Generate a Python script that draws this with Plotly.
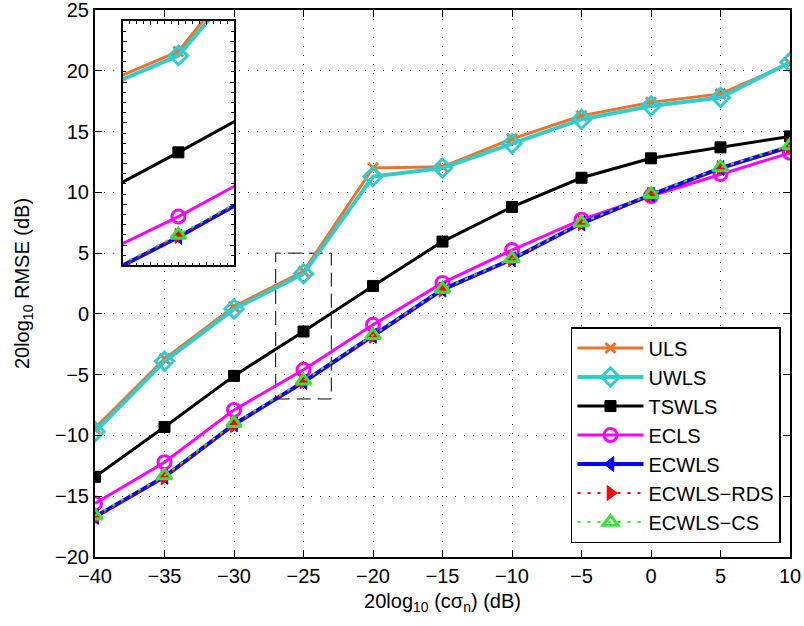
import plotly.graph_objects as go

# noise level 20log10(c*sigma_n) in dB
snr_db = [-40, -35, -30, -25, -20, -15, -10, -5, 0, 5, 10]

# RMSE (dB) of each estimator
uls = [-9.4, -3.7, 0.6, 3.5, 12.0, 12.1, 14.4, 16.3, 17.4, 18.1, 20.6]
uwls = [-9.7, -3.9, 0.4, 3.3, 11.3, 12.0, 14.0, 16.0, 17.1, 17.8, 20.7]
tswls = [-13.4, -9.3, -5.1, -1.45, 2.3, 5.95, 8.8, 11.2, 12.8, 13.7, 14.6]
ecls = [-15.6, -12.2, -7.9, -4.6, -0.9, 2.55, 5.25, 7.75, 9.7, 11.5, 13.25]
ecwls = [-16.7, -13.4, -9.1, -5.6, -1.8, 2.0, 4.5, 7.45, 9.8, 12.0, 13.75]
ecwls_rds = [-16.8, -13.45, -9.15, -5.55, -1.8, 2.0, 4.5, 7.45, 9.8, 12.0, 13.8]
ecwls_cs = [-16.6, -13.3, -9.0, -5.5, -1.75, 2.05, 4.55, 7.5, 9.85, 12.05, 13.85]

# zoomed window shown in the inset
zoom_x = [-27, -23]
zoom_y = [-7, 5]

FONT = "Liberation Sans, Arial, Helvetica, sans-serif"
ORANGE = "#E8742E"
CYAN = "#33CCCC"
GREEN = "#3CE03C"

series = [
    dict(name="ULS", y=uls, color=ORANGE, width=3, dash="solid",
         marker=dict(symbol="x-thin-open", size=10, color=ORANGE,
                     line=dict(color=ORANGE, width=3))),
    dict(name="UWLS", y=uwls, color=CYAN, width=4, dash="solid",
         marker=dict(symbol="diamond-open", size=14, color=CYAN,
                     line=dict(color=CYAN, width=3))),
    dict(name="TSWLS", y=tswls, color="black", width=3, dash="solid",
         marker=dict(symbol="square", size=11, color="black",
                     line=dict(color="black", width=1))),
    dict(name="ECLS", y=ecls, color="#FF00FF", width=3, dash="solid",
         marker=dict(symbol="circle-open", size=13, color="#FF00FF",
                     line=dict(color="#FF00FF", width=3))),
    dict(name="ECWLS", y=ecwls, color="#0000FF", width=4, dash="solid",
         marker=dict(symbol="triangle-left", size=13, color="#0000FF",
                     line=dict(color="#0000FF", width=1))),
    dict(name="ECWLS\u2212RDS", y=ecwls_rds, color="#FF0000", width=2, dash="3px,7px",
         marker=dict(symbol="triangle-right", size=13, color="#FF0000",
                     line=dict(color="#FF0000", width=1))),
    dict(name="ECWLS\u2212CS", y=ecwls_cs, color=GREEN, width=2, dash="3px,7px",
         marker=dict(symbol="triangle-up-open", size=13, color=GREEN,
                     line=dict(color=GREEN, width=3))),
]

fig = go.Figure()

for s in series:
    fig.add_trace(go.Scatter(
        x=snr_db, y=s["y"], name=s["name"], mode="lines+markers",
        line=dict(color=s["color"], width=s["width"], dash=s["dash"]),
        marker=s["marker"], xaxis="x", yaxis="y",
    ))

for s in series:
    fig.add_trace(go.Scatter(
        x=snr_db, y=s["y"], name=s["name"], mode="lines+markers",
        line=dict(color=s["color"], width=s["width"], dash=s["dash"]),
        marker=s["marker"], xaxis="x2", yaxis="y2", showlegend=False,
    ))

grid_dash = "1px,8px"
axis_common = dict(
    showline=True, linecolor="black", linewidth=2, mirror="ticks",
    ticks="inside", ticklen=7, tickwidth=1, tickcolor="black",
    showgrid=True, gridcolor="#222222", gridwidth=1, griddash=grid_dash,
    zeroline=False, ticklabeloverflow="allow", automargin=False,
    tickfont=dict(family=FONT, size=20, color="black"),
)

fig.update_layout(
    width=804, height=626,
    margin=dict(l=95, r=14, t=10, b=69),
    paper_bgcolor="white", plot_bgcolor="white",
    font=dict(family=FONT, size=19, color="black"),
    xaxis=dict(
        range=[-40, 10], dtick=5, tick0=-40, domain=[0, 1],
        title=dict(text="20log<sub>10</sub> (c\u03c3<sub>n</sub>) (dB)",
                   font=dict(family=FONT, size=20), standoff=8),
        **axis_common,
    ),
    yaxis=dict(
        range=[-20, 25], dtick=5, tick0=-20, domain=[0, 1],
        title=dict(text="20log<sub>10</sub> RMSE (dB)",
                   font=dict(family=FONT, size=20), standoff=20),
        **axis_common,
    ),
    xaxis2=dict(
        range=zoom_x, domain=[0.040, 0.200], anchor="y2",
        showline=True, linecolor="black", linewidth=1.5, mirror="ticks",
        ticks="inside", ticklen=4, tickcolor="black", dtick=1,
        minor=dict(ticks="inside", ticklen=3, dtick=0.25, tickcolor="black"),
        showticklabels=False, showgrid=False, zeroline=False,
    ),
    yaxis2=dict(
        range=zoom_y, domain=[0.533, 0.980], anchor="x2",
        showline=True, linecolor="black", linewidth=1.5, mirror="ticks",
        ticks="inside", ticklen=4, tickcolor="black", dtick=2,
        minor=dict(ticks="inside", ticklen=3, dtick=0.5, tickcolor="black"),
        showticklabels=False, showgrid=False, zeroline=False,
    ),
    legend=dict(
        x=0.987, y=0.0255, xanchor="right", yanchor="bottom",
        bgcolor="white", bordercolor="black", borderwidth=1.5,
        font=dict(family=FONT, size=20, color="black"),
        itemwidth=66, tracegroupgap=0,
    ),
    showlegend=True,
)

# dashed box marking the zoomed region
fig.add_shape(type="rect", xref="x", yref="y",
              x0=zoom_x[0], x1=zoom_x[1], y0=zoom_y[0], y1=zoom_y[1],
              line=dict(color="black", width=1, dash="14px,7px"),
              layer="below")

fig.write_html("out.html")
